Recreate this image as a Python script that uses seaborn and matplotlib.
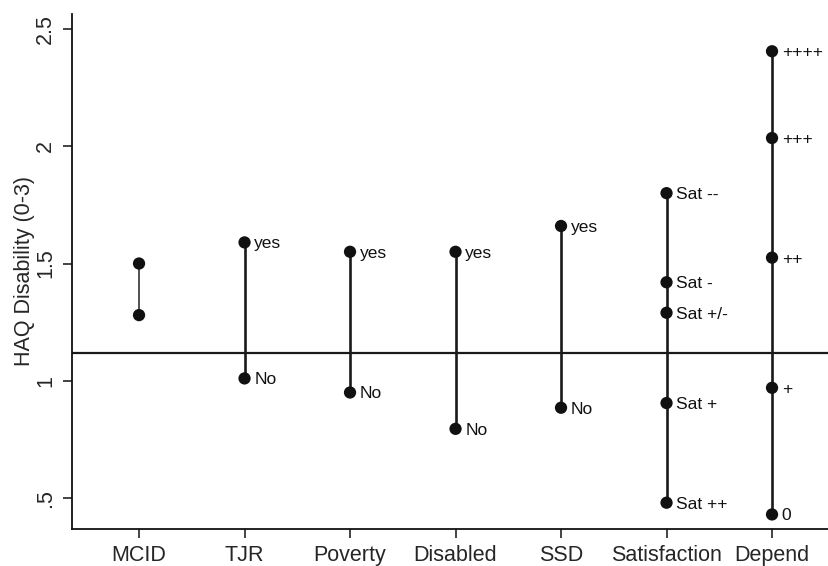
import matplotlib
matplotlib.use("Agg")
import matplotlib.pyplot as plt
import seaborn as sns
import pandas as pd

# Mean HAQ disability by subgroup, one column per grouping variable
categories = ["MCID", "TJR", "Poverty", "Disabled", "SSD", "Satisfaction", "Depend"]

mcid_values = [1.50, 1.28]
mcid_labels = ["", ""]
tjr_values = [1.59, 1.01]
tjr_labels = ["yes", "No"]
poverty_values = [1.55, 0.95]
poverty_labels = ["yes", "No"]
disabled_values = [1.55, 0.795]
disabled_labels = ["yes", "No"]
ssd_values = [1.66, 0.885]
ssd_labels = ["yes", "No"]
satisfaction_values = [1.80, 1.42, 1.29, 0.905, 0.48]
satisfaction_labels = ["Sat --", "Sat -", "Sat +/-", "Sat +", "Sat ++"]
depend_values = [2.405, 2.035, 1.525, 0.97, 0.43]
depend_labels = ["++++", "+++", "++", "+", "0"]

reference_level = 1.12
y_ticks = [0.5, 1.0, 1.5, 2.0, 2.5]
y_tick_labels = [".5", "1", "1.5", "2", "2.5"]

groups = [
    (mcid_values, mcid_labels),
    (tjr_values, tjr_labels),
    (poverty_values, poverty_labels),
    (disabled_values, disabled_labels),
    (ssd_values, ssd_labels),
    (satisfaction_values, satisfaction_labels),
    (depend_values, depend_labels),
]

rows = []
for pos, (cat, (vals, labs)) in enumerate(zip(categories, groups), start=1):
    for v, lab in zip(vals, labs):
        rows.append({"category": cat, "pos": pos, "value": v, "label": lab})
df = pd.DataFrame(rows)

sns.set_theme(style="white")
plt.rcParams["font.family"] = ["Liberation Sans", "DejaVu Sans"]

fig = plt.figure(figsize=(8.29, 5.66), dpi=100)
ax = fig.add_axes([0.0869, 0.0654, 0.9131, 0.9099])

# vertical connector for each grouping variable
for cat, sub in df.groupby("category", sort=False):
    lw = 1.2 if cat == "MCID" else 1.9
    color = "#333333" if cat == "MCID" else "#1a1a1a"
    sns.lineplot(data=sub, x="pos", y="value", units="category",
                 estimator=None, sort=True, ax=ax, color=color,
                 linewidth=lw, legend=False)

sns.scatterplot(data=df, x="pos", y="value", ax=ax, color="#111111",
                s=78, edgecolor="none", legend=False, zorder=3)

ax.axhline(reference_level, color="#1a1a1a", linewidth=1.6, zorder=1)

for _, r in df.iterrows():
    if r["label"]:
        ax.annotate(r["label"], (r["pos"], r["value"]), xytext=(7, -1),
                    textcoords="offset points", va="center", ha="left",
                    fontsize=12.5, color="#111111")

ax.set_xlim(0.365, 7.54)
ax.set_ylim(0.368, 2.564)
ax.set_xticks(range(1, len(categories) + 1))
ax.set_xticklabels(categories, fontsize=15.5)
ax.set_yticks(y_ticks)
ax.set_yticklabels(y_tick_labels, fontsize=15.5, rotation=90, va="center")
ax.set_xlabel("")
ax.set_ylabel("HAQ Disability (0-3)", fontsize=15.5, labelpad=0)

ax.tick_params(axis="both", which="both", direction="out", length=6.5,
               width=1.1, color="#111111", bottom=True, left=True, pad=5)
for side in ["top", "right"]:
    ax.spines[side].set_visible(False)
for side in ["left", "bottom"]:
    ax.spines[side].set_color("#111111")
    ax.spines[side].set_linewidth(1.3)

fig.savefig("out.png", dpi=100, facecolor="white")
